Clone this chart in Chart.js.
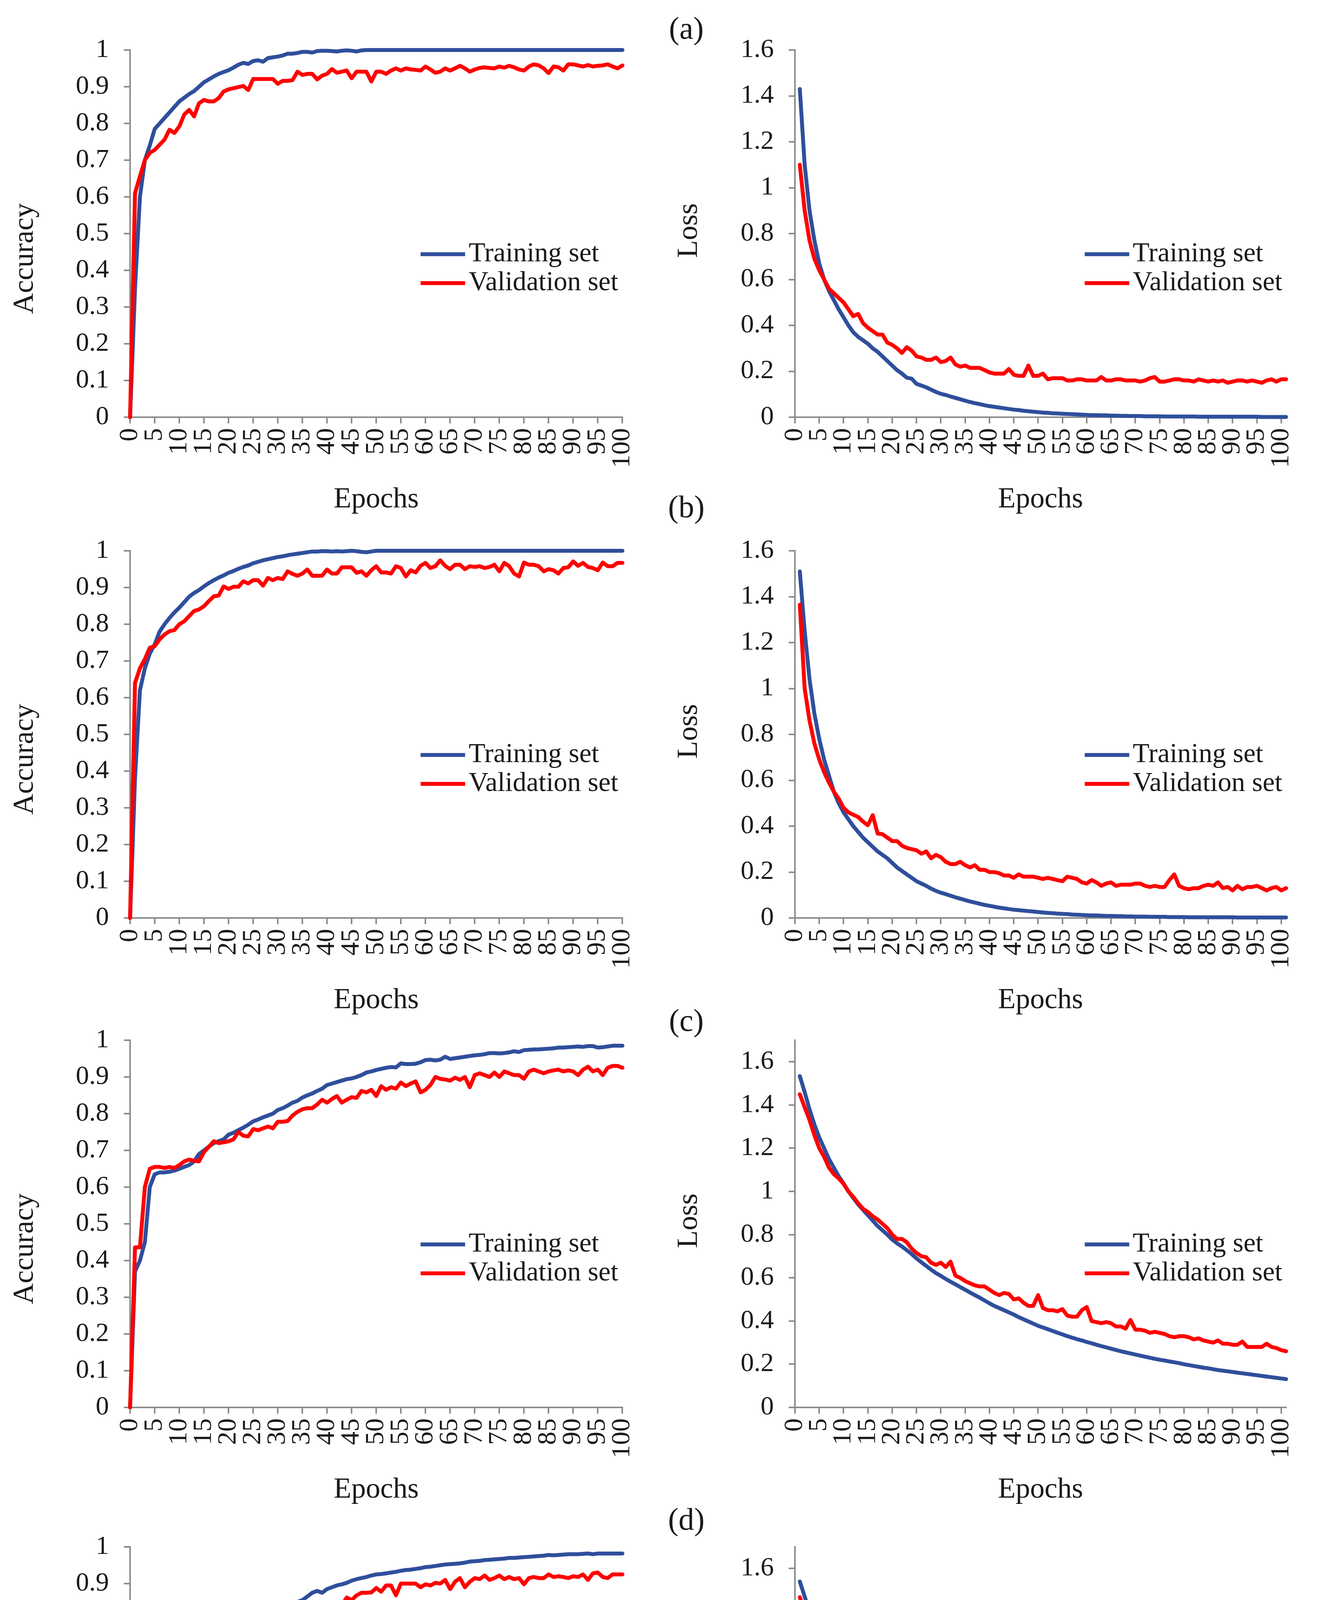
<!DOCTYPE html>
<html>
<head>
<meta charset="utf-8">
<title>Accuracy and loss curves</title>
<script src="https://cdn.jsdelivr.net/npm/chart.js@4.4.1/dist/chart.umd.min.js"></script>
<style>
  body { margin: 0; background: #fff; width: 3374px; height: 5198px; position: relative; overflow: hidden; }
  canvas { position: absolute; }
  .panel { position: absolute; font: 80px "Liberation Serif", serif; line-height: 1; color: #1a1a1a; transform: translate(-50%, -50%); }
</style>
</head>
<body>
<div class="panel" style="left:1757px;top:72px">(a)</div>
<div class="panel" style="left:1757px;top:1297px">(b)</div>
<div class="panel" style="left:1757px;top:2612px">(c)</div>
<div class="panel" style="left:1757px;top:3889px">(d)</div>

<canvas id="accA"></canvas><canvas id="lossA"></canvas>
<canvas id="accB"></canvas><canvas id="lossB"></canvas>
<canvas id="accC"></canvas><canvas id="lossC"></canvas>
<canvas id="accD"></canvas><canvas id="lossD"></canvas>

<script>
// ---- data (accuracy: epochs 0..100, loss: epochs 1..101) ----
const seriesNames = ['Training set', 'Validation set'];
const epochTicks = [0, 5, 10, 15, 20, 25, 30, 35, 40, 45, 50, 55, 60, 65, 70, 75, 80, 85, 90, 95, 100];

// (a)
const accTrainA = [
  0, 0.35, 0.6, 0.7, 0.74, 0.785, 0.8, 0.815, 0.83, 0.845,
  0.86, 0.87, 0.88, 0.888, 0.9, 0.912, 0.92, 0.928, 0.935, 0.94,
  0.945, 0.952, 0.96, 0.965, 0.962, 0.97, 0.972, 0.968, 0.978, 0.98,
  0.982, 0.985, 0.99, 0.99, 0.992, 0.995, 0.995, 0.993, 0.997, 0.998,
  0.998, 0.997, 0.996, 0.998, 0.999, 0.998, 0.996, 0.999, 1, 1,
  1, 1, 1, 1, 1, 1, 1, 1, 1, 1,
  1, 1, 1, 1, 1, 1, 1, 1, 1, 1,
  1, 1, 1, 1, 1, 1, 1, 1, 1, 1,
  1, 1, 1, 1, 1, 1, 1, 1, 1, 1,
  1, 1, 1, 1, 1, 1, 1, 1, 1, 1, 1
];
const accValA = [
  0, 0.61, 0.656, 0.70, 0.72, 0.728, 0.742, 0.756, 0.783, 0.774,
  0.792, 0.824, 0.837, 0.819, 0.855, 0.864, 0.86, 0.86, 0.869, 0.887,
  0.893, 0.896, 0.899, 0.902, 0.891, 0.921, 0.921, 0.921, 0.921, 0.921,
  0.908, 0.916, 0.916, 0.918, 0.941, 0.932, 0.935, 0.935, 0.92, 0.93,
  0.935, 0.948, 0.938, 0.941, 0.944, 0.923, 0.941, 0.941, 0.941, 0.914,
  0.941, 0.941, 0.935, 0.944, 0.95, 0.944, 0.95, 0.947, 0.946, 0.944,
  0.955, 0.947, 0.938, 0.941, 0.95, 0.944, 0.95, 0.957, 0.95, 0.941,
  0.947, 0.951, 0.953, 0.951, 0.95, 0.955, 0.952, 0.957, 0.953, 0.947,
  0.944, 0.955, 0.961, 0.958, 0.95, 0.937, 0.955, 0.953, 0.944, 0.961,
  0.961, 0.958, 0.955, 0.959, 0.955, 0.957, 0.958, 0.961, 0.955, 0.95, 0.958
];
const lossTrainA = [
  1.43, 1.10, 0.90, 0.77, 0.67, 0.60, 0.55, 0.51, 0.47, 0.435,
  0.40, 0.37, 0.35, 0.335, 0.32, 0.30, 0.285, 0.265, 0.245, 0.225,
  0.205, 0.19, 0.172, 0.168, 0.145, 0.138, 0.13, 0.12, 0.11, 0.102,
  0.097, 0.09, 0.084, 0.078, 0.072, 0.066, 0.061, 0.057, 0.052, 0.048,
  0.045, 0.042, 0.039, 0.036, 0.033, 0.031, 0.028, 0.026, 0.024, 0.022,
  0.02, 0.019, 0.017, 0.016, 0.015, 0.014, 0.013, 0.012, 0.011, 0.01,
  0.009, 0.009, 0.008, 0.008, 0.007, 0.007, 0.006, 0.006, 0.005, 0.005,
  0.005, 0.004, 0.004, 0.004, 0.004, 0.003, 0.003, 0.003, 0.003, 0.003,
  0.003, 0.003, 0.002, 0.002, 0.002, 0.002, 0.002, 0.002, 0.002, 0.002,
  0.002, 0.002, 0.002, 0.002, 0.002, 0.001, 0.001, 0.001, 0.001, 0.001, 0.001
];
const lossValA = [
  1.10, 0.90, 0.77, 0.69, 0.64, 0.60, 0.56, 0.54, 0.52, 0.50,
  0.47, 0.44, 0.45, 0.41, 0.39, 0.375, 0.36, 0.36, 0.325, 0.315,
  0.30, 0.28, 0.305, 0.29, 0.265, 0.26, 0.25, 0.25, 0.26, 0.24,
  0.245, 0.26, 0.23, 0.22, 0.225, 0.215, 0.215, 0.215, 0.205, 0.195,
  0.19, 0.19, 0.19, 0.21, 0.185, 0.18, 0.18, 0.225, 0.18, 0.18,
  0.19, 0.165, 0.17, 0.17, 0.17, 0.16, 0.16, 0.165, 0.165, 0.16,
  0.16, 0.16, 0.175, 0.16, 0.16, 0.165, 0.165, 0.16, 0.16, 0.16,
  0.155, 0.16, 0.17, 0.175, 0.155, 0.155, 0.16, 0.165, 0.165, 0.16,
  0.16, 0.155, 0.165, 0.16, 0.155, 0.16, 0.155, 0.16, 0.15, 0.155,
  0.16, 0.16, 0.155, 0.16, 0.155, 0.15, 0.16, 0.165, 0.155, 0.165, 0.165
];

// (b)
const accTrainB = [
  0, 0.38, 0.62, 0.68, 0.72, 0.745, 0.78, 0.80, 0.817, 0.832,
  0.845, 0.86, 0.875, 0.885, 0.893, 0.903, 0.912, 0.92, 0.927, 0.933,
  0.94, 0.945, 0.951, 0.956, 0.96, 0.966, 0.97, 0.974, 0.977, 0.98,
  0.983, 0.985, 0.988, 0.99, 0.992, 0.994, 0.996, 0.998, 0.998, 0.999,
  0.999, 0.998, 0.999, 0.998, 0.999, 1, 0.999, 0.997, 0.996, 0.998,
  1, 1, 1, 1, 1, 1, 1, 1, 1, 1,
  1, 1, 1, 1, 1, 1, 1, 1, 1, 1,
  1, 1, 1, 1, 1, 1, 1, 1, 1, 1,
  1, 1, 1, 1, 1, 1, 1, 1, 1, 1,
  1, 1, 1, 1, 1, 1, 1, 1, 1, 1, 1
];
const accValB = [
  0, 0.64, 0.68, 0.705, 0.736, 0.74, 0.759, 0.772, 0.781, 0.784,
  0.80, 0.808, 0.822, 0.836, 0.84, 0.849, 0.863, 0.876, 0.878, 0.903,
  0.896, 0.902, 0.902, 0.917, 0.911, 0.92, 0.92, 0.905, 0.926, 0.92,
  0.926, 0.923, 0.944, 0.937, 0.932, 0.938, 0.949, 0.932, 0.932, 0.932,
  0.949, 0.938, 0.938, 0.955, 0.955, 0.955, 0.94, 0.944, 0.932, 0.947,
  0.958, 0.941, 0.941, 0.938, 0.958, 0.953, 0.93, 0.947, 0.941, 0.959,
  0.967, 0.953, 0.958, 0.974, 0.959, 0.95, 0.962, 0.962, 0.95, 0.958,
  0.956, 0.958, 0.953, 0.956, 0.962, 0.944, 0.967, 0.958, 0.938, 0.93,
  0.968, 0.962, 0.962, 0.958, 0.944, 0.95, 0.947, 0.938, 0.953, 0.955,
  0.971, 0.959, 0.967, 0.956, 0.953, 0.947, 0.968, 0.958, 0.958, 0.967, 0.967
];
const lossTrainB = [
  1.51, 1.25, 1.04, 0.89, 0.78, 0.69, 0.62, 0.55, 0.50, 0.46,
  0.43, 0.40, 0.375, 0.35, 0.33, 0.31, 0.29, 0.275, 0.26, 0.24,
  0.22, 0.205, 0.19, 0.175, 0.16, 0.15, 0.14, 0.128, 0.118, 0.11,
  0.104, 0.097, 0.09, 0.084, 0.078, 0.072, 0.067, 0.062, 0.057, 0.053,
  0.049, 0.045, 0.042, 0.039, 0.036, 0.034, 0.032, 0.03, 0.028, 0.026,
  0.024, 0.022, 0.021, 0.019, 0.018, 0.017, 0.015, 0.014, 0.013, 0.012,
  0.011, 0.011, 0.01, 0.009, 0.009, 0.008, 0.008, 0.007, 0.007, 0.006,
  0.006, 0.006, 0.005, 0.005, 0.005, 0.005, 0.004, 0.004, 0.004, 0.004,
  0.003, 0.003, 0.003, 0.003, 0.003, 0.003, 0.003, 0.003, 0.003, 0.003,
  0.002, 0.002, 0.002, 0.002, 0.002, 0.002, 0.002, 0.002, 0.002, 0.002, 0.002
];
const lossValB = [
  1.365, 1.0, 0.86, 0.76, 0.69, 0.635, 0.59, 0.55, 0.52, 0.48,
  0.46, 0.45, 0.44, 0.42, 0.404, 0.448, 0.368, 0.365, 0.35, 0.335,
  0.335, 0.315, 0.305, 0.30, 0.295, 0.28, 0.29, 0.26, 0.275, 0.265,
  0.245, 0.235, 0.235, 0.245, 0.23, 0.22, 0.23, 0.21, 0.21, 0.20,
  0.20, 0.195, 0.185, 0.185, 0.175, 0.19, 0.18, 0.18, 0.18, 0.175,
  0.17, 0.175, 0.17, 0.165, 0.16, 0.18, 0.175, 0.17, 0.155, 0.15,
  0.165, 0.155, 0.14, 0.15, 0.155, 0.14, 0.145, 0.145, 0.145, 0.15,
  0.15, 0.14, 0.135, 0.14, 0.135, 0.135, 0.165, 0.19, 0.14, 0.13,
  0.125, 0.13, 0.13, 0.14, 0.145, 0.14, 0.155, 0.13, 0.135, 0.12,
  0.14, 0.125, 0.135, 0.135, 0.14, 0.13, 0.12, 0.13, 0.135, 0.12, 0.13
];

// (c)
const accTrainC = [
  0, 0.37, 0.40, 0.45, 0.60, 0.635, 0.64, 0.64, 0.642, 0.645,
  0.65, 0.655, 0.66, 0.67, 0.69, 0.70, 0.71, 0.72, 0.725, 0.73,
  0.743, 0.748, 0.755, 0.762, 0.77, 0.779, 0.784, 0.79, 0.795, 0.80,
  0.81, 0.815, 0.822, 0.83, 0.835, 0.844, 0.85, 0.855, 0.862, 0.868,
  0.878, 0.882, 0.886, 0.89, 0.894, 0.896, 0.90, 0.905, 0.912, 0.915,
  0.919, 0.922, 0.925, 0.927, 0.926, 0.937, 0.935, 0.935, 0.936, 0.94,
  0.946, 0.947, 0.945, 0.947, 0.955, 0.949, 0.951, 0.953, 0.955, 0.957,
  0.959, 0.96, 0.962, 0.965, 0.965, 0.964, 0.965, 0.967, 0.97, 0.968,
  0.973, 0.974, 0.975, 0.975, 0.976, 0.977, 0.978, 0.98, 0.98, 0.981,
  0.982, 0.983, 0.982, 0.984, 0.984, 0.98, 0.981, 0.983, 0.985, 0.985, 0.985
];
const accValC = [
  0, 0.436, 0.436, 0.60, 0.65, 0.655, 0.655, 0.652, 0.655, 0.652,
  0.66, 0.67, 0.675, 0.672, 0.67, 0.695, 0.71, 0.725, 0.72, 0.722,
  0.725, 0.73, 0.75, 0.74, 0.738, 0.758, 0.755, 0.76, 0.765, 0.76,
  0.778, 0.778, 0.78, 0.795, 0.805, 0.812, 0.815, 0.815, 0.825, 0.838,
  0.83, 0.84, 0.848, 0.83, 0.838, 0.845, 0.843, 0.862, 0.858, 0.865,
  0.848, 0.875, 0.865, 0.872, 0.868, 0.885, 0.875, 0.882, 0.888, 0.858,
  0.865, 0.878, 0.90, 0.895, 0.893, 0.89, 0.898, 0.892, 0.90, 0.872,
  0.905, 0.91, 0.905, 0.90, 0.912, 0.90, 0.915, 0.91, 0.905, 0.905,
  0.895, 0.915, 0.92, 0.915, 0.91, 0.915, 0.918, 0.92, 0.915, 0.918,
  0.915, 0.905, 0.92, 0.928, 0.915, 0.92, 0.905, 0.925, 0.93, 0.93, 0.925
];
const lossTrainC = [
  1.534, 1.46, 1.38, 1.31, 1.25, 1.20, 1.15, 1.11, 1.07, 1.037,
  1.0, 0.97, 0.94, 0.915, 0.89, 0.865, 0.84, 0.82, 0.80, 0.777,
  0.76, 0.745, 0.728, 0.71, 0.69, 0.672, 0.655, 0.638, 0.622, 0.609,
  0.595, 0.582, 0.57, 0.557, 0.545, 0.532, 0.52, 0.508, 0.495, 0.482,
  0.47, 0.46, 0.45, 0.44, 0.43, 0.418, 0.408, 0.398, 0.388, 0.378,
  0.37, 0.362, 0.354, 0.346, 0.338, 0.33, 0.323, 0.316, 0.31, 0.303,
  0.297, 0.29, 0.284, 0.278, 0.272, 0.266, 0.26, 0.255, 0.25, 0.245,
  0.24, 0.235, 0.23, 0.225, 0.221, 0.217, 0.213, 0.209, 0.205, 0.2,
  0.196, 0.192, 0.188, 0.184, 0.181, 0.177, 0.173, 0.17, 0.167, 0.164,
  0.161, 0.158, 0.155, 0.152, 0.149, 0.146, 0.143, 0.14, 0.137, 0.134, 0.131
];
const lossValC = [
  1.45, 1.39, 1.33, 1.26, 1.20, 1.16, 1.11, 1.08, 1.06, 1.035,
  1.0, 0.975, 0.945, 0.92, 0.905, 0.885, 0.87, 0.85, 0.83, 0.80,
  0.78, 0.78, 0.765, 0.735, 0.715, 0.70, 0.695, 0.67, 0.66, 0.67,
  0.65, 0.675, 0.61, 0.60, 0.585, 0.575, 0.565, 0.56, 0.56, 0.545,
  0.53, 0.52, 0.53, 0.525, 0.50, 0.505, 0.485, 0.47, 0.47, 0.52,
  0.46, 0.45, 0.45, 0.445, 0.455, 0.425, 0.42, 0.42, 0.45, 0.465,
  0.40, 0.395, 0.39, 0.395, 0.39, 0.375, 0.375, 0.365, 0.405, 0.36,
  0.36, 0.355, 0.345, 0.35, 0.345, 0.34, 0.33, 0.325, 0.33, 0.33,
  0.325, 0.315, 0.32, 0.31, 0.305, 0.30, 0.31, 0.295, 0.295, 0.29,
  0.29, 0.305, 0.28, 0.28, 0.28, 0.28, 0.295, 0.28, 0.275, 0.265, 0.26
];

// (d)
const accTrainD = [
  0, 0.39, 0.40, 0.42, 0.57, 0.635, 0.636, 0.637, 0.64, 0.642,
  0.645, 0.65, 0.657, 0.665, 0.675, 0.69, 0.70, 0.71, 0.72, 0.73,
  0.745, 0.755, 0.762, 0.772, 0.78, 0.79, 0.798, 0.81, 0.815, 0.82,
  0.826, 0.832, 0.84, 0.845, 0.85, 0.855, 0.865, 0.875, 0.88, 0.875,
  0.885, 0.89, 0.895, 0.898, 0.902, 0.908, 0.912, 0.915, 0.918, 0.922,
  0.925, 0.926, 0.928, 0.93, 0.932, 0.935, 0.937, 0.938, 0.94, 0.942,
  0.945, 0.946, 0.948, 0.95, 0.952, 0.953, 0.954, 0.955, 0.957, 0.96,
  0.961, 0.962, 0.964, 0.965, 0.966, 0.967, 0.968, 0.97, 0.97, 0.971,
  0.972, 0.973, 0.974, 0.975, 0.976, 0.978, 0.977, 0.978, 0.979, 0.98,
  0.98, 0.98, 0.981, 0.982, 0.98, 0.982, 0.982, 0.982, 0.982, 0.982, 0.982
];
const accValD = [
  0, 0.435, 0.435, 0.50, 0.61, 0.655, 0.655, 0.657, 0.654, 0.658,
  0.66, 0.652, 0.66, 0.668, 0.675, 0.69, 0.70, 0.71, 0.718, 0.725,
  0.73, 0.738, 0.74, 0.765, 0.76, 0.775, 0.778, 0.785, 0.797, 0.79,
  0.785, 0.80, 0.81, 0.808, 0.815, 0.818, 0.82, 0.83, 0.85, 0.836,
  0.835, 0.835, 0.838, 0.84, 0.862, 0.855, 0.868, 0.875, 0.875, 0.876,
  0.888, 0.878, 0.895, 0.895, 0.868, 0.90, 0.90, 0.90, 0.90, 0.89,
  0.898, 0.895, 0.902, 0.90, 0.91, 0.885, 0.905, 0.915, 0.89, 0.905,
  0.915, 0.912, 0.922, 0.91, 0.915, 0.922, 0.912, 0.918, 0.912, 0.915,
  0.898, 0.915, 0.918, 0.915, 0.915, 0.925, 0.918, 0.92, 0.918, 0.915,
  0.92, 0.918, 0.925, 0.91, 0.928, 0.93, 0.918, 0.915, 0.925, 0.925, 0.925
];
const lossTrainD = [
  1.54, 1.47, 1.40, 1.33, 1.26, 1.20, 1.15, 1.10, 1.07, 1.04,
  1.0, 0.97, 0.94, 0.915, 0.89, 0.865, 0.84, 0.815, 0.795, 0.775,
  0.755, 0.735, 0.715, 0.695, 0.68, 0.665, 0.65, 0.635, 0.62, 0.605,
  0.59, 0.577, 0.563, 0.55, 0.535, 0.52, 0.505, 0.49, 0.477, 0.465,
  0.455, 0.445, 0.435, 0.425, 0.415, 0.405, 0.395, 0.385, 0.375, 0.366,
  0.358, 0.35, 0.342, 0.333, 0.325, 0.318, 0.312, 0.305, 0.298, 0.292,
  0.286, 0.28, 0.274, 0.268, 0.262, 0.256, 0.25, 0.245, 0.24, 0.235,
  0.23, 0.226, 0.222, 0.218, 0.214, 0.21, 0.206, 0.202, 0.198, 0.195,
  0.19, 0.186, 0.182, 0.178, 0.174, 0.17, 0.167, 0.164, 0.16, 0.157,
  0.154, 0.151, 0.149, 0.146, 0.144, 0.141, 0.138, 0.135, 0.133, 0.13, 0.128
];
const lossValD = [
  1.467, 1.40, 1.33, 1.27, 1.206, 1.16, 1.12, 1.08, 1.06, 1.045,
  1.01, 0.98, 0.95, 0.925, 0.907, 0.885, 0.87, 0.845, 0.82, 0.792,
  0.76, 0.76, 0.735, 0.70, 0.69, 0.68, 0.67, 0.655, 0.655, 0.62,
  0.62, 0.605, 0.59, 0.58, 0.575, 0.565, 0.545, 0.57, 0.595, 0.515,
  0.515, 0.515, 0.50, 0.49, 0.49, 0.475, 0.46, 0.455, 0.455, 0.445,
  0.44, 0.43, 0.425, 0.425, 0.43, 0.41, 0.41, 0.40, 0.395, 0.39,
  0.385, 0.385, 0.38, 0.38, 0.37, 0.385, 0.36, 0.355, 0.37, 0.355,
  0.345, 0.345, 0.35, 0.345, 0.335, 0.33, 0.325, 0.325, 0.33, 0.32,
  0.34, 0.315, 0.31, 0.305, 0.305, 0.30, 0.31, 0.295, 0.295, 0.29,
  0.295, 0.29, 0.285, 0.31, 0.28, 0.275, 0.305, 0.295, 0.275, 0.27, 0.27
];

// ---- look ----
const FONT = '"Liberation Serif", "DejaVu Serif", serif';
const INK = '#1a1a1a';
const AXIS = '#8c8c8c';
const BLUE = '#2f4f9c';
const RED = '#ff0000';

// page layout: each panel gets its own canvas
const CELL_W = 1687, CELL_H = 1300;
const rowTops = [128, 1410, 2663, 3960];   // top of plot area per row
const PAD_TOP = 100, PLOT_H = 940, XAXIS_H = 256;

// legend drawn inside the plot, like the Excel original
const insideLegend = {
  id: 'insideLegend',
  afterDatasetsDraw(chart, args, opts) {
    const { ctx, chartArea: a } = chart;
    const x = a.left + a.width * opts.x;
    let y = a.top + a.height * opts.y;
    ctx.save();
    ctx.font = opts.size + 'px ' + FONT;
    ctx.textBaseline = 'middle';
    ctx.textAlign = 'left';
    chart.data.datasets.forEach(ds => {
      ctx.strokeStyle = ds.borderColor;
      ctx.lineWidth = ds.borderWidth;
      ctx.beginPath();
      ctx.moveTo(x, y);
      ctx.lineTo(x + opts.lineLen, y);
      ctx.stroke();
      ctx.fillStyle = INK;
      ctx.fillText(ds.label, x + opts.lineLen + 9, y);
      y += opts.gap;
    });
    ctx.restore();
  }
};

// y axis title; Excel puts "Accuracy" a little below the middle of the axis
const sideTitle = {
  id: 'sideTitle',
  afterDraw(chart, args, opts) {
    const { ctx, chartArea: a } = chart;
    ctx.save();
    ctx.translate(opts.x, (a.top + a.bottom) / 2 + opts.shift);
    ctx.rotate(-Math.PI / 2);
    ctx.font = opts.size + 'px ' + FONT;
    ctx.fillStyle = INK;
    ctx.textAlign = 'center';
    ctx.textBaseline = 'middle';
    ctx.fillText(opts.text, 0, 0);
    ctx.restore();
  }
};

const trimNum = v => String(+v.toFixed(2));

function makeChart(id, row, col, train, valid, yMax) {
  const isLoss = col === 1;
  const canvas = document.getElementById(id);
  canvas.width = CELL_W;
  canvas.height = CELL_H;
  canvas.style.left = (col * CELL_W) + 'px';
  canvas.style.top = (rowTops[row] - PAD_TOP) + 'px';

  const first = isLoss ? 1 : 0;
  const toPoints = arr => arr.map((v, i) => ({ x: i + first, y: v }));
  const line = (label, data, color, order) => ({
    label, data, borderColor: color, backgroundColor: color,
    borderWidth: 10, pointRadius: 0, tension: 0, order,
    borderJoinStyle: 'round', borderCapStyle: 'round', clip: false
  });

  new Chart(canvas, {
    type: 'line',
    data: {
      datasets: [
        line(seriesNames[0], toPoints(train), BLUE, 1),
        line(seriesNames[1], toPoints(valid), RED, 0)
      ]
    },
    options: {
      responsive: false,
      animation: false,
      devicePixelRatio: 1,
      events: [],
      layout: { padding: { left: 0, top: PAD_TOP, right: isLoss ? 53 : 75, bottom: CELL_H - PAD_TOP - PLOT_H - XAXIS_H } },
      plugins: {
        legend: { display: false },
        tooltip: { enabled: false },
        insideLegend: { x: 0.59, y: 0.556, gap: 74, lineLen: 114, size: 70 },
        sideTitle: { text: isLoss ? 'Loss' : 'Accuracy', x: isLoss ? 78 : 65, shift: isLoss ? -8 : 64, size: 74 }
      },
      scales: {
        x: {
          type: 'linear',
          min: 0,
          max: isLoss ? 101 : 100,
          afterBuildTicks: s => { s.ticks = epochTicks.map(v => ({ value: v })); },
          afterFit: s => { s.height = XAXIS_H; },
          grid: { drawOnChartArea: false, color: AXIS, lineWidth: 4, tickLength: 16 },
          border: { color: AXIS, width: 4 },
          ticks: {
            autoSkip: false, minRotation: 90, maxRotation: 90, padding: 12,
            color: INK, font: { family: FONT, size: 68 }
          },
          title: {
            display: true, text: 'Epochs', color: INK,
            font: { family: FONT, size: 74 }, padding: { top: 0, bottom: 0 }
          }
        },
        y: {
          min: 0,
          max: yMax,
          afterFit: s => { s.width = isLoss ? 348 : 333; },
          grid: { drawOnChartArea: false, color: AXIS, lineWidth: 4, tickLength: 16 },
          border: { color: AXIS, width: 4 },
          ticks: {
            stepSize: isLoss ? 0.2 : 0.1, includeBounds: false, padding: 38,
            color: INK, font: { family: FONT, size: 68 },
            callback: trimNum
          },
          title: { display: false }
        }
      }
    },
    plugins: [insideLegend, sideTitle]
  });
}

makeChart('accA', 0, 0, accTrainA, accValA, 1);
makeChart('lossA', 0, 1, lossTrainA, lossValA, 1.6);
makeChart('accB', 1, 0, accTrainB, accValB, 1);
makeChart('lossB', 1, 1, lossTrainB, lossValB, 1.6);
makeChart('accC', 2, 0, accTrainC, accValC, 1);
makeChart('lossC', 2, 1, lossTrainC, lossValC, 1.7);
makeChart('accD', 3, 0, accTrainD, accValD, 1);
makeChart('lossD', 3, 1, lossTrainD, lossValD, 1.7);
</script>
</body>
</html>
